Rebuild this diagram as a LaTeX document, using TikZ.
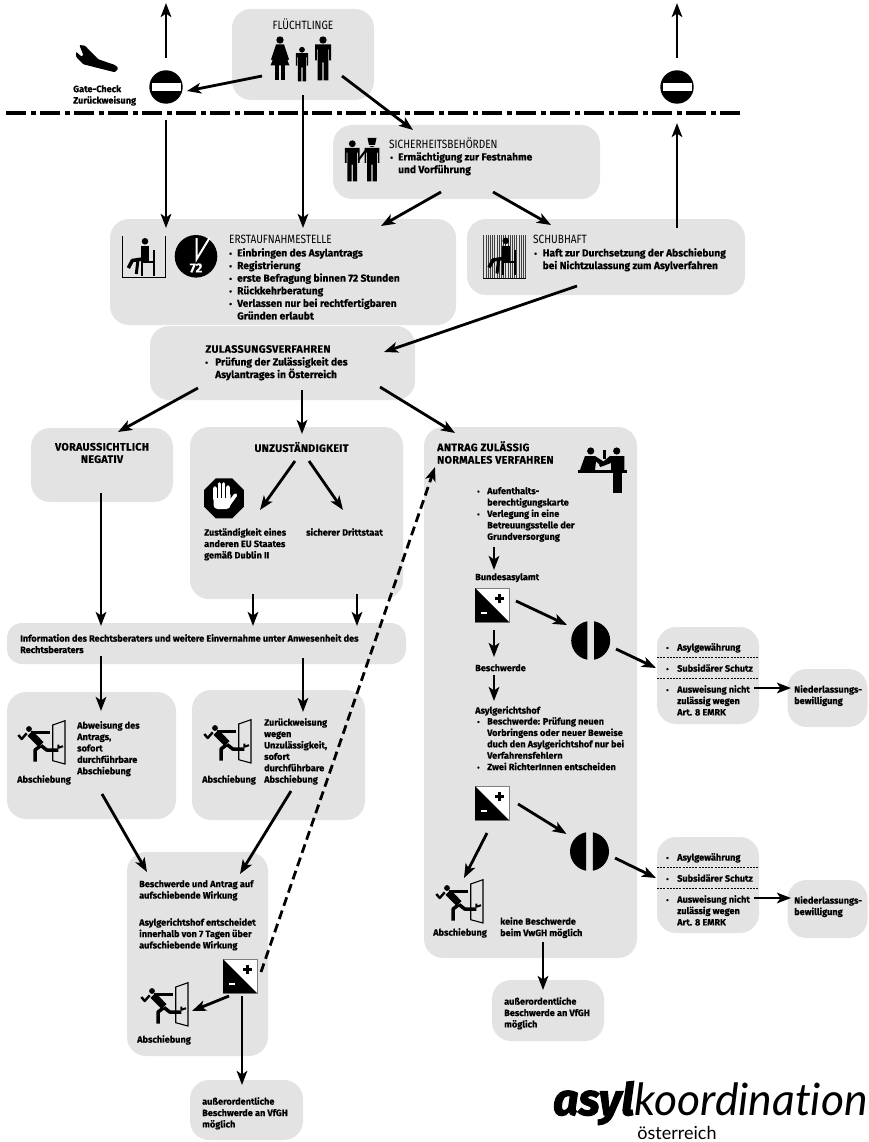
\documentclass[tikz,border=0pt]{standalone}
\usepackage{fontspec}
\usetikzlibrary{arrows.meta}
\setmainfont[BoldFeatures={FakeBold=0.5}]{Fira Sans}
\newfontfamily\condf[FakeStretch=0.84]{Fira Sans}
\newfontfamily\logoheavy[FakeBold=2.5]{Fira Sans}
\newfontfamily\logolight[Ligatures=NoCommon]{Lato}
\newcommand\smtxt{\bfseries\fontsize{9.15}{11.4}\selectfont}
\newcommand\bigtxt{\bfseries\fontsize{10.2}{12.6}\selectfont}
\newcommand\captxt{\bfseries\fontsize{10.7}{12.4}\selectfont\addfontfeatures{LetterSpace=3}}
\newcommand\cndtxt{\condf\fontsize{12}{13}\selectfont}
\newcommand\bul[1]{\makebox[#1][l]{\scalebox{.8}{•}}}
\definecolor{boxgray}{HTML}{E3E3E3}
\tikzset{
  box/.style={fill=boxgray,rounded corners=19pt,inner sep=0pt},
  txt/.style={inner sep=0pt,anchor=north west,align=left,font=\smtxt},
  txtb/.style={inner sep=0pt,anchor=north west,align=left,font=\bigtxt},
  ctitle/.style={inner sep=0pt,anchor=north west,align=left,font=\cndtxt},
  btitle/.style={inner sep=0pt,align=center,font=\captxt},
  arr/.style={line width=2.8pt,-{Stealth[length=14pt,width=10.5pt,inset=3.5pt]}},
  darr/.style={arr,dash pattern=on 9pt off 5pt},
  man/.pic={
    \fill (0,3.5) circle (3.7);
    \fill (-8,8) -- (8,8) -- (8,24) -- (6.2,24) -- (6.2,13) -- (5.3,13) -- (5.3,44) -- (0.7,44) -- (0.7,26) -- (-0.7,26) -- (-0.7,44) -- (-5.3,44) -- (-5.3,13) -- (-6.2,13) -- (-6.2,24) -- (-8,24) -- cycle;
  },
  woman/.pic={
    \fill (0,3.5) circle (3.7);
    \fill (-4,8) -- (4,8) -- (9,23) -- (7.3,23.8) -- (3.5,14) -- (9.5,29) -- (-9.5,29) -- (-3.5,14) -- (-7.3,23.8) -- (-9,23) -- cycle;
    \fill (-5,29) rectangle (-1,44);
    \fill (1,29) rectangle (5,44);
  },
  nogo/.pic={
    \fill (0,0) circle (16.7);
    \fill[white] (-14.5,-3.6) rectangle (14.5,3.6);
  },
  decide/.pic={
    \filldraw[fill=white,draw=black!50,line width=.5pt] (-17,-17) rectangle (17,17);
    \fill (-17,-17) -- (17,17) -- (-17,17) -- cycle;
    \fill (5.5,-11) rectangle (8.5,-2);
    \fill (2.5,-8) rectangle (11.5,-5);
    \fill[white] (-11,6.5) rectangle (-5.5,9);
  },
  halves/.pic={
    \begin{scope}
      \clip (-19.5,-19.5) rectangle (-3.4,19.5);
      \fill (0,0) circle (19.5);
    \end{scope}
    \begin{scope}
      \clip (3.4,-19.5) rectangle (19.5,19.5);
      \fill (0,0) circle (19.5);
    \end{scope}
  },
  runner/.pic={
    \draw[line width=1.1pt,line join=miter] (34.7,5) -- (47,0.7) -- (47,44) -- (34.7,40.7) -- cycle;
    \fill (11,9) circle (2.9);
    \draw[line width=3.5pt] (12.7,12.3) -- (32,12.3);
    \draw[line width=2.4pt,line join=round] (8.7,13.3) -- (3.7,19) -- (0.3,15);
    \draw[line width=7pt] (12,13.3) -- (23,24.5);
    \draw[line width=3.5pt,line join=round] (22.7,25.7) -- (17,30) -- (17,41.7);
    \draw[line width=3.5pt,line join=round] (23,25.5) -- (28.7,30) -- (40.3,30);
    \draw[line width=2pt,line join=round] (40.3,24.5) -- (40.3,27.8) -- (45,26.2);
  },
  seated/.pic={
    \fill (22.7,5.3) circle (3.3);
    \fill (18.7,10) rectangle (27,25.5);
    \fill (31,14) rectangle (33,39.5);
    \fill (18.7,25) rectangle (33,27);
    \fill (19,27) rectangle (21,39.5);
    \draw[line width=3.5pt,line join=round] (20,23) -- (10,24.5) -- (6,32);
    \draw[line width=3pt] (15.5,25) -- (14,38);
  }
}
\begin{document}
\begin{tikzpicture}[x=1pt,y=-1pt]
\useasboundingbox (0,0) rectangle (868,1142);
% boxes
\node[box,minimum width=142pt,minimum height=91pt] (flue) at (303,54.5) {};
\node[box,minimum width=267pt,minimum height=74pt] (sich) at (466.5,162) {};
\node[box,minimum width=346pt,minimum height=106pt] (erst) at (283,272) {};
\node[box,minimum width=278pt,minimum height=76pt] (schub) at (606,257) {};
\node[box,minimum width=265pt,minimum height=74pt] (zul) at (282.5,363) {};
\node[box,minimum width=142pt,minimum height=74pt] (neg) at (102,465) {};
\node[box,minimum width=213pt,minimum height=172pt] (unz) at (296.5,513) {};
\node[box,minimum width=213pt,minimum height=531pt] (ant) at (530.5,692.5) {};
\node[box,rounded corners=15pt,minimum width=399pt,minimum height=41pt] (info) at (206.5,643.5) {};
\node[box,minimum width=169pt,minimum height=127pt] (abw) at (91.5,755.5) {};
\node[box,minimum width=173pt,minimum height=130pt] (zur) at (278.5,755) {};
\node[box,minimum width=141pt,minimum height=204pt] (bes) at (197.5,954) {};
\node[box,minimum width=113pt,minimum height=60pt] (ausA) at (246.5,1110) {};
\node[box,minimum width=112pt,minimum height=61pt] (ausB) at (548,1010.5) {};
\node[box,minimum width=102pt,minimum height=97pt] (resA) at (708,675.5) {};
\node[box,minimum width=80pt,minimum height=58pt] (niedA) at (827.5,698) {};
\node[box,minimum width=102pt,minimum height=96pt] (resB) at (708,885) {};
\node[box,minimum width=80pt,minimum height=58pt] (niedB) at (827.5,909) {};
\draw[dashed,line width=.6pt,dash pattern=on 2pt off 1.2pt] (657,657) -- (759,657) (657,678) -- (759,678) (657,867) -- (759,867) (657,888) -- (759,888);
% border
\draw[line width=3.4pt,dash pattern=on 20pt off 4.5pt on 5pt off 4.5pt] (6,113) -- (740,113);
% icon anchors
\coordinate (nogoA) at (166,87);
\coordinate (nogoB) at (677,87);
\coordinate (exitA) at (166,3);
\coordinate (exitB) at (677,3);
\coordinate (sqA) at (492,605);
\coordinate (sqB) at (492,803);
\coordinate (sqC) at (240,976);
\coordinate (halfA) at (590.7,640.5);
\coordinate (halfB) at (589.5,851.5);
\coordinate (runA) at (18,720);
\coordinate (runB) at (204,719);
\coordinate (runC) at (141,982);
\coordinate (runD) at (436,879);
\pic at (nogoA) {nogo};
\pic at (nogoB) {nogo};
\pic at (sqA) {decide};
\pic at (sqB) {decide};
\pic at (sqC) {decide};
\pic at (halfA) {halves};
\pic at (halfB) {halves};
\pic at (runA) {runner};
\pic at (runB) {runner};
\pic at (runC) {runner};
\pic at (runD) {runner};
% family
\pic at (280,36.5) {woman};
\pic[scale=.78] at (302,47) {man};
\pic at (323,36.5) {man};
% plane
\fill[rounded corners=1pt] (79.3,45) -- (85,45.7) -- (98.3,59.3) -- (115,65) -- (118.3,68.3) -- (115,72.3) -- (83.3,64.3) -- (76,56.7) -- (76,51.7) -- (81.7,56.7) -- (83.3,55) -- cycle;
% security
\pic[scale=.93] at (352.3,140.5) {man};
\pic[scale=.93] at (372,140.5) {man};
\fill[boxgray] (367,137) rectangle (378,146);
\fill (367.5,138) -- (376.5,138) -- (375,145) -- (369,145) -- cycle;
\draw[line width=2pt] (358.5,160) -- (366,150);
% waiting
\draw[line width=1pt] (122.5,236) -- (122.5,277.5) -- (165.5,277.5) -- (165.5,236);
\pic at (122.3,236) {seated};
\fill (196,256.3) circle (21.3);
\draw[white,line width=2pt] (196.7,238) -- (196.7,259) -- (209.5,238);
\node[inner sep=0pt,text=white,font=\bfseries\fontsize{13}{14}\selectfont] (sieb) at (196,268) {72};
% detention
\foreach \i in {0,...,19} \draw[line width=.5pt,black!75] (483.6+\i*2.2,235) -- (483.6+\i*2.2,278);
\draw[line width=1pt] (483,278) -- (526,278);
\pic at (483,235.5) {seated};
% stop hand
\fill[shift={(224,498.3)},rotate=22.5] (0:21.6) -- (45:21.6) -- (90:21.6) -- (135:21.6) -- (180:21.6) -- (225:21.6) -- (270:21.6) -- (315:21.6) -- cycle;
\fill[white,rounded corners=4pt] (213.5,491) rectangle (230.5,509);
\draw[white,line width=3.6pt,line cap=round] (215,499) -- (215,488) (219.3,499) -- (219.3,484) (223.6,499) -- (223.6,484) (228,499) -- (228,487) (229,504) -- (235.5,495);
\draw[black,line width=.9pt] (217.1,484) -- (217.1,498) (221.5,482) -- (221.5,498) (225.8,484) -- (225.8,498);
% desk
\fill (578.3,470) rectangle (626.7,473.3);
\fill (590.7,451) circle (3.6);
\fill (616.7,451) circle (3.6);
\fill (585,456) -- (595,456) -- (603.5,461.5) -- (600,465) -- (596,461.5) -- (595,470) -- (580,470) -- cycle;
\fill (603.3,450) rectangle (605.7,458.5);
\fill (610,456) -- (624.3,456) -- (624.3,470) -- (611,470) -- (611,463) -- (600.5,467) -- (599,465) -- cycle;
\fill (613.3,473) rectangle (617.5,492.5);
\fill (618.3,473) rectangle (622.3,492.5);
% logo
\node[inner sep=0pt,anchor=base east,font=\logolight\itshape\fontsize{44.5}{50}\selectfont] (lkoor) at (868,1115) {koordination};
\node[inner sep=0pt,anchor=base east,font=\logoheavy\bfseries\itshape\fontsize{44.5}{50}\selectfont] (lasyl) at (lkoor.base west) {asyl};
\node[inner sep=0pt,anchor=base,font=\logolight\fontsize{18}{24}\selectfont] (loest) at (677,1139) {österreich};
% texts
\node[inner sep=0pt,font=\cndtxt] (tflue) at (303,24) {FLÜCHTLINGE};
\node[txt] (tgate) at (73,85) {Gate-Check\\Zurückweisung};
\node[ctitle] (tsich) at (389,138) {SICHERHEITSBEHÖRDEN};
\node[txtb] (lsich) at (390,152) {\bul{8pt}Ermächtigung zur Festnahme\\\hspace{8pt}und Vorführung};
\node[ctitle] (terst) at (229,235) {ERSTAUFNAHMESTELLE};
\node[txtb] (lerst) at (229,248) {\bul{8pt}Einbringen des Asylantrags\\\bul{8pt}Registrierung\\\bul{8pt}erste Befragung binnen 72 Stunden\\\bul{8pt}Rückkehrberatung\\\bul{8pt}Verlassen nur bei rechtfertigbaren\\\hspace{8pt}Gründen erlaubt};
\node[ctitle] (tschub) at (533,235) {SCHUBHAFT};
\node[txtb] (lschub) at (534,248) {\bul{8.5pt}Haft zur Durchsetzung der Abschiebung\\\hspace{8.5pt}bei Nichtzulassung zum Asylverfahren};
\node[btitle] (tzul) at (268,349) {ZULASSUNGSVERFAHREN};
\node[txtb] (lzul) at (205,357) {\bul{10pt}Prüfung der Zulässigkeit des\\\hspace{10pt}Asylantrages in Österreich};
\node[btitle] (tneg) at (102,453) {VORAUSSICHTLICH\\NEGATIV};
\node[btitle] (tunz) at (301.5,447) {UNZUSTÄNDIGKEIT};
\node[txt] (tzust) at (204,528) {Zuständigkeit eines\\anderen EU Staates\\gemäß Dublin II};
\node[txt] (tdrit) at (306,528) {sicherer Drittstaat};
\node[txt] (tinfo) at (20,634) {Information des Rechtsberaters und weitere Einvernahme unter Anwesenheit des\\Rechtsberaters};
\node[btitle,anchor=north west,align=left] (tant) at (437,441) {ANTRAG ZULÄSSIG\\NORMALES VERFAHREN};
\node[txt] (taufent) at (477,487) {\bul{10pt}Aufenthalts-\\\hspace{10pt}berechtigungskarte\\\bul{10pt}Verlegung in eine\\\hspace{10pt}Betreuungsstelle der\\\hspace{10pt}Grundversorgung};
\node[txt] (tbund) at (475,573) {Bundesasylamt};
\node[txt] (tbesch) at (475,664) {Beschwerde};
\node[txt] (tagh) at (475,706) {Asylgerichtshof};
\node[txt] (lagh) at (477,717) {\bul{10pt}Beschwerde: Prüfung neuen\\\hspace{10pt}Vorbringens oder neuer Beweise\\\hspace{10pt}duch den Asylgerichtshof nur bei\\\hspace{10pt}Verfahrensfehlern\\\bul{10pt}Zwei RichterInnen entscheiden};
\node[txt] (tabA) at (17,775) {Abschiebung};
\node[txt] (tabB) at (202,775) {Abschiebung};
\node[txt] (tabC) at (137,1035) {Abschiebung};
\node[txt] (tabD) at (433,928) {Abschiebung};
\node[txt] (tabw) at (77,721) {Abweisung des\\Antrags,\\sofort\\durchführbare\\Abschiebung};
\node[txt] (tzur) at (264,718) {Zurückweisung\\wegen\\Unzulässigkeit,\\sofort\\durchführbare\\Abschiebung};
\node[txt] (tbes) at (139,880) {Beschwerde und Antrag auf\\aufschiebende Wirkung};
\node[txt] (tbesb) at (139,918) {Asylgerichtshof entscheidet\\innerhalb von 7 Tagen über\\aufschiebende Wirkung};
\node[txt] (taussA) at (202,1097) {außerordentliche\\Beschwerde an VfGH\\möglich};
\node[txt] (taussB) at (504,997) {außerordentliche\\Beschwerde an VfGH\\möglich};
\node[txt] (tkeine) at (500,917) {keine Beschwerde\\beim VwGH möglich};
\node[txt] (tasylA) at (666,643) {\bul{11pt}Asylgewährung};
\node[txt] (tsubA) at (666,664) {\bul{11pt}Subsidärer Schutz};
\node[txt] (tausA) at (666,685) {\bul{11pt}Ausweisung nicht\\\hspace{11pt}zulässig wegen\\\hspace{11pt}Art. 8 EMRK};
\node[txt] (tniedA) at (794,685) {Niederlassungs-\\bewilligung};
\node[txt] (tasylB) at (666,853) {\bul{11pt}Asylgewährung};
\node[txt] (tsubB) at (666,874) {\bul{11pt}Subsidärer Schutz};
\node[txt] (tausB) at (666,895) {\bul{11pt}Ausweisung nicht\\\hspace{11pt}zulässig wegen\\\hspace{11pt}Art. 8 EMRK};
\node[txt] (tniedB) at (794,896) {Niederlassungs-\\bewilligung};
% connectors
\draw[arr] ([shift={(-41,21.5)}]flue.center) -- ([shift={(21,4)}]nogoA);
\draw[arr] ([shift={(0,40.5)}]flue.center) -- ([shift={(20,-44)}]erst.center);
\draw[arr] ([shift={(39,21.5)}]flue.center) -- ([shift={(-53.5,-32)}]sich.center);
\draw[arr] ([shift={(0,-29)}]nogoA) -- (exitA);
\draw[arr] ([shift={(0,33)}]nogoA) -- ([shift={(-117,-44)}]erst.center);
\draw[arr] ([shift={(-25.5,30)}]sich.center) -- ([shift={(98,-46)}]erst.center);
\draw[arr] ([shift={(26.5,30)}]sich.center) -- ([shift={(-55,-32)}]schub.center);
\draw[arr] ([shift={(71,-29)}]schub.center) -- ([shift={(0,36)}]nogoB);
\draw[arr] ([shift={(0,-29)}]nogoB) -- (exitB);
\draw[arr] ([shift={(-29,29)}]schub.center) -- ([shift={(101.5,-11)}]zul.center);
\draw[arr] ([shift={(-84.5,25)}]zul.center) -- ([shift={(16,-33)}]neg.center);
\draw[arr] ([shift={(19.5,27)}]zul.center) -- ([shift={(5.5,-79)}]unz.center);
\draw[arr] ([shift={(97.5,24)}]zul.center) -- ([shift={(-75.5,-259.5)}]ant.center);
\draw[arr] ([shift={(-1,28)}]neg.center) -- ([shift={(-105.5,-17.5)}]info.center);
\draw[arr] ([shift={(-43.5,81)}]unz.center) -- ([shift={(46.5,-17.5)}]info.center);
\draw[arr] ([shift={(60.5,81)}]unz.center) -- ([shift={(150.5,-17.5)}]info.center);
\draw[arr] ([shift={(-6.5,14)}]tunz.center) -- ([shift={(56,-18)}]tzust.north west);
\draw[arr] ([shift={(7.5,14)}]tunz.center) -- ([shift={(37,-18)}]tdrit.north west);
\draw[arr] ([shift={(-105.5,12.5)}]info.center) -- ([shift={(9.5,-44.5)}]abw.center);
\draw[arr] ([shift={(96.5,14.5)}]info.center) -- ([shift={(24.5,-43)}]zur.center);
\draw[arr] ([shift={(10.5,38.5)}]abw.center) -- ([shift={(-50.5,-82)}]bes.center);
\draw[arr] ([shift={(12.5,36)}]zur.center) -- ([shift={(42.5,-80)}]bes.center);
\draw[darr] ([shift={(21,-4)}]sqC) -- ([shift={(-95.5,-225.5)}]ant.center);
\draw[arr] ([shift={(-11,20)}]sqC) -- ([shift={(51,29)}]runC);
\draw[arr] ([shift={(2,20)}]sqC) -- ([shift={(-4.5,-25)}]ausA.center);
\draw[arr] ([shift={(17,60)}]taufent.north west) -- ([shift={(19,-3)}]tbund.north west);
\draw[arr] ([shift={(24,-4)}]sqA) -- ([shift={(-23.7,-15.5)}]halfA);
\draw[arr] ([shift={(2,25)}]sqA) -- ([shift={(19,-7)}]tbesch.north west);
\draw[arr] ([shift={(19,11)}]tbesch.north west) -- ([shift={(19,-5)}]tagh.north west);
\draw[arr] ([shift={(25.3,8.5)}]halfA) -- ([shift={(-52,-7.5)}]resA.center);
\draw[arr] ([shift={(46,12.5)}]resA.center) -- ([shift={(-36.5,-10)}]niedA.center);
\draw[arr] ([shift={(26,1)}]sqB) -- ([shift={(-23,-17.5)}]halfB);
\draw[arr] ([shift={(-5,30)}]sqB) -- ([shift={(28,-1)}]runD);
\draw[arr] ([shift={(25.5,6.5)}]halfB) -- ([shift={(-52,-7)}]resB.center);
\draw[arr] ([shift={(46,13)}]resB.center) -- ([shift={(-36.5,-11)}]niedB.center);
\draw[arr] ([shift={(12.5,249.5)}]ant.center) -- ([shift={(-5,-20.5)}]ausB.center);
\end{tikzpicture}
\end{document}
